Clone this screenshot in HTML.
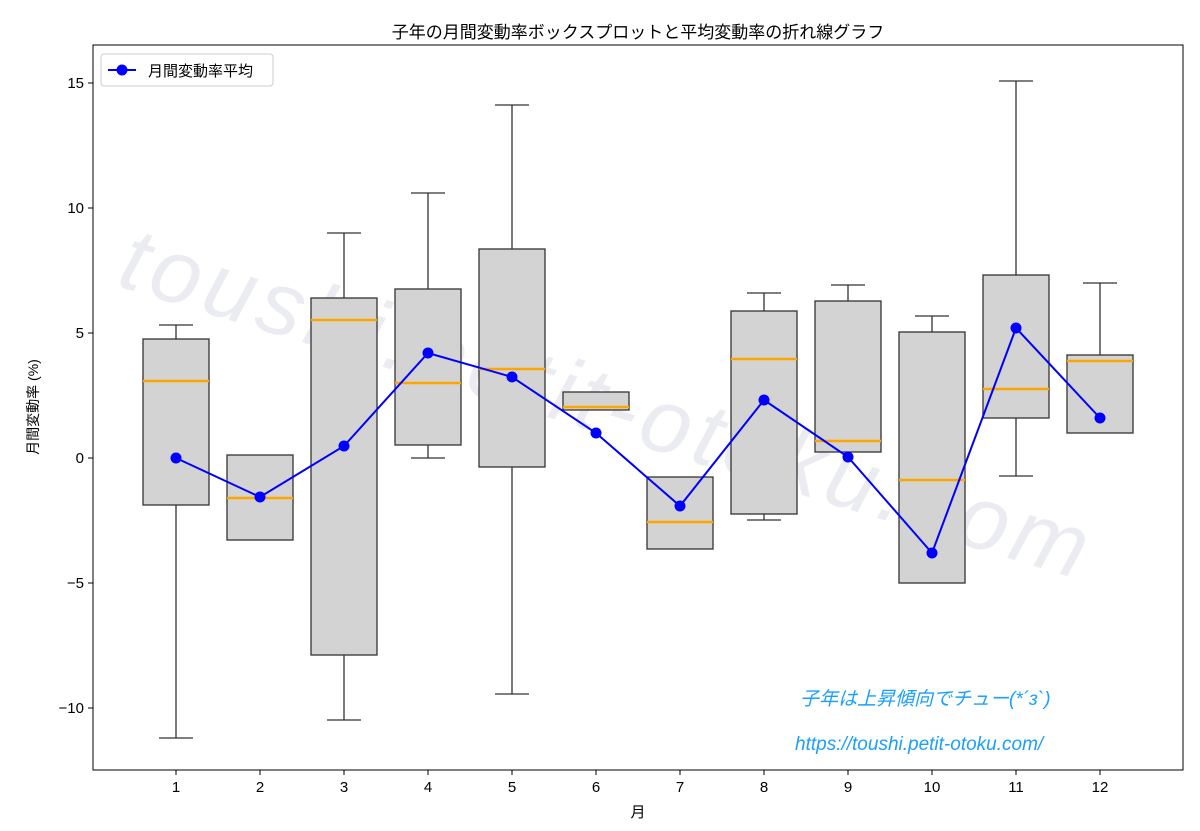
<!DOCTYPE html>
<html><head><meta charset="utf-8"><style>body{margin:0;background:#fff}</style></head><body>
<svg width="1200" height="826" xmlns="http://www.w3.org/2000/svg" font-family="'Liberation Sans','Noto Sans CJK JP',sans-serif">
<rect width="1200" height="826" fill="#fff"/>
<text x="638" y="38" font-size="17" text-anchor="middle" fill="#000">子年の月間変動率ボックスプロットと平均変動率の折れ線グラフ</text>
<text x="0" y="0" font-size="90" fill="#ebebf2" font-style="italic" letter-spacing="6" transform="translate(115,285) rotate(17)">toushi.petit-otoku.com</text>
<g stroke="#333" stroke-width="1.3" fill="#d3d3d3">
<line x1="176" y1="738" x2="176" y2="505"/><line x1="176" y1="339" x2="176" y2="325"/><line x1="159" y1="738" x2="193" y2="738"/><line x1="159" y1="325" x2="193" y2="325"/><rect x="143" y="339" width="66" height="166"/>
<rect x="227" y="455" width="66" height="85"/>
<line x1="344" y1="720" x2="344" y2="655"/><line x1="344" y1="298" x2="344" y2="233"/><line x1="327" y1="720" x2="361" y2="720"/><line x1="327" y1="233" x2="361" y2="233"/><rect x="311" y="298" width="66" height="357"/>
<line x1="428" y1="458" x2="428" y2="445"/><line x1="428" y1="289" x2="428" y2="193"/><line x1="411" y1="458" x2="445" y2="458"/><line x1="411" y1="193" x2="445" y2="193"/><rect x="395" y="289" width="66" height="156"/>
<line x1="512" y1="694" x2="512" y2="467"/><line x1="512" y1="249" x2="512" y2="105"/><line x1="495" y1="694" x2="529" y2="694"/><line x1="495" y1="105" x2="529" y2="105"/><rect x="479" y="249" width="66" height="218"/>
<rect x="563" y="392" width="66" height="18"/>
<rect x="647" y="477" width="66" height="72"/>
<line x1="764" y1="520" x2="764" y2="514"/><line x1="764" y1="311" x2="764" y2="293"/><line x1="747" y1="520" x2="781" y2="520"/><line x1="747" y1="293" x2="781" y2="293"/><rect x="731" y="311" width="66" height="203"/>
<line x1="848" y1="301" x2="848" y2="285"/><line x1="831" y1="285" x2="865" y2="285"/><rect x="815" y="301" width="66" height="151"/>
<line x1="932" y1="332" x2="932" y2="316"/><line x1="915" y1="316" x2="949" y2="316"/><rect x="899" y="332" width="66" height="251"/>
<line x1="1016" y1="476" x2="1016" y2="418"/><line x1="1016" y1="275" x2="1016" y2="81"/><line x1="999" y1="476" x2="1033" y2="476"/><line x1="999" y1="81" x2="1033" y2="81"/><rect x="983" y="275" width="66" height="143"/>
<line x1="1100" y1="355" x2="1100" y2="283"/><line x1="1083" y1="283" x2="1117" y2="283"/><rect x="1067" y="355" width="66" height="78"/>
</g>
<g stroke="orange" stroke-width="2.5">
<line x1="143" y1="381" x2="209" y2="381"/><line x1="227" y1="498" x2="293" y2="498"/><line x1="311" y1="320" x2="377" y2="320"/><line x1="395" y1="383" x2="461" y2="383"/><line x1="479" y1="369" x2="545" y2="369"/><line x1="563" y1="407" x2="629" y2="407"/><line x1="647" y1="522" x2="713" y2="522"/><line x1="731" y1="359" x2="797" y2="359"/><line x1="815" y1="441" x2="881" y2="441"/><line x1="899" y1="480" x2="965" y2="480"/><line x1="983" y1="389" x2="1049" y2="389"/><line x1="1067" y1="361" x2="1133" y2="361"/>
</g>
<polyline fill="none" stroke="#0000ff" stroke-width="2" points="176,458 260,497 344,446 428,353 512,377 596,433 680,506 764,400 848,457 932,553 1016,328 1100,418"/>
<g fill="#0000ff"><circle cx="176" cy="458" r="5.5"/><circle cx="260" cy="497" r="5.5"/><circle cx="344" cy="446" r="5.5"/><circle cx="428" cy="353" r="5.5"/><circle cx="512" cy="377" r="5.5"/><circle cx="596" cy="433" r="5.5"/><circle cx="680" cy="506" r="5.5"/><circle cx="764" cy="400" r="5.5"/><circle cx="848" cy="457" r="5.5"/><circle cx="932" cy="553" r="5.5"/><circle cx="1016" cy="328" r="5.5"/><circle cx="1100" cy="418" r="5.5"/></g>
<rect x="93" y="45" width="1090" height="725" fill="none" stroke="#000" stroke-width="1"/>
<g font-size="15" fill="#000" text-anchor="end">
<line x1="88" y1="83" x2="93" y2="83" stroke="#000"/><text x="84" y="88">15</text>
<line x1="88" y1="208" x2="93" y2="208" stroke="#000"/><text x="84" y="213">10</text>
<line x1="88" y1="333" x2="93" y2="333" stroke="#000"/><text x="84" y="338">5</text>
<line x1="88" y1="458" x2="93" y2="458" stroke="#000"/><text x="84" y="463">0</text>
<line x1="88" y1="583" x2="93" y2="583" stroke="#000"/><text x="84" y="588">−5</text>
<line x1="88" y1="708" x2="93" y2="708" stroke="#000"/><text x="84" y="713">−10</text>
</g>
<g font-size="15" fill="#000" text-anchor="middle" stroke-width="1">
<g stroke="#000"><line x1="176" y1="770" x2="176" y2="775"/><line x1="260" y1="770" x2="260" y2="775"/><line x1="344" y1="770" x2="344" y2="775"/><line x1="428" y1="770" x2="428" y2="775"/><line x1="512" y1="770" x2="512" y2="775"/><line x1="596" y1="770" x2="596" y2="775"/><line x1="680" y1="770" x2="680" y2="775"/><line x1="764" y1="770" x2="764" y2="775"/><line x1="848" y1="770" x2="848" y2="775"/><line x1="932" y1="770" x2="932" y2="775"/><line x1="1016" y1="770" x2="1016" y2="775"/><line x1="1100" y1="770" x2="1100" y2="775"/></g>
<text x="176" y="792">1</text><text x="260" y="792">2</text><text x="344" y="792">3</text><text x="428" y="792">4</text><text x="512" y="792">5</text><text x="596" y="792">6</text><text x="680" y="792">7</text><text x="764" y="792">8</text><text x="848" y="792">9</text><text x="932" y="792">10</text><text x="1016" y="792">11</text><text x="1100" y="792">12</text>
<text x="638" y="817">月</text>
</g>
<text transform="translate(38,407) rotate(-90)" font-size="14" text-anchor="middle">月間変動率 (%)</text>
<rect x="101" y="54" width="172" height="32" fill="#fff" stroke="#ccc" rx="3"/>
<line x1="108" y1="70" x2="136" y2="70" stroke="#0000ff" stroke-width="2"/><circle cx="122" cy="70" r="5.5" fill="#0000ff"/>
<text x="148" y="76" font-size="15">月間変動率平均</text>
<text x="800" y="705" font-size="19" fill="#1a9fff" font-style="italic">子年は上昇傾向でチュー(*´з`)</text>
<text x="795" y="750" font-size="19" fill="#1a9fff" font-style="italic">https://toushi.petit-otoku.com/</text>
</svg>
</body></html>
